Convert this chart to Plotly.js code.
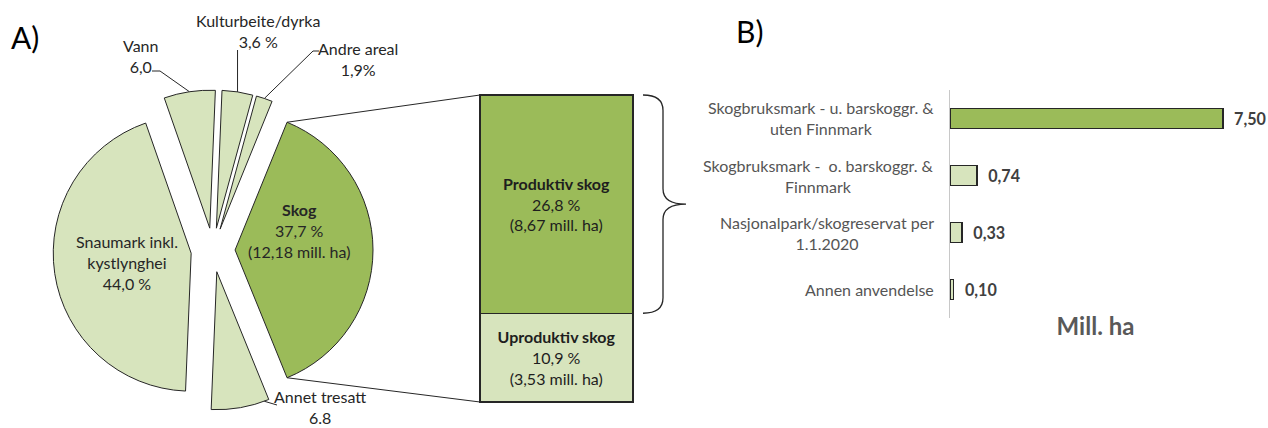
<!DOCTYPE html>
<html><head><meta charset="utf-8">
<script src="https://cdn.plot.ly/plotly-3.0.1.min.js"></script>
<style>html,body{margin:0;padding:0;background:#fff}</style>
</head><body><div id="chart" style="width:1268px;height:428px"></div>
<script>
// ---------- DATA ----------
const pieLabels = ['Skog', 'Annet tresatt', 'Snaumark inkl. kystlynghei', 'Vann', 'Kulturbeite/dyrka', 'Andre areal'];
const pieValues = [37.7, 6.8, 44.0, 6.0, 3.6, 1.9];
const pieNameText = ['<b>Skog</b>', 'Annet tresatt', 'Snaumark inkl.<br>kystlynghei', 'Vann', 'Kulturbeite/dyrka', 'Andre areal'];
const pieValueText = ['37,7 %', '6.8', '44,0 %', '6,0', '3,6 %', '1,9%'];
const skogMillHaText = '(12,18 mill. ha)';

const forestLabels = ['Produktiv skog', 'Uproduktiv skog'];
const forestValues = [26.8, 10.9];
const forestMillHa = [8.67, 3.53];

const useCategories = ['Skogbruksmark - u. barskoggr. &<br>uten Finnmark',
                       'Skogbruksmark -  o. barskoggr. &<br>Finnmark',
                       'Nasjonalpark/skogreservat per<br>1.1.2020',
                       'Annen anvendelse'];
const useValues = [7.50, 0.74, 0.33, 0.10];

// ---------- STYLE / LAYOUT HELPERS ----------
const W = 1268, H = 428;
const px = x => x / W, py = y => 1 - y / H;
const DARK = '#9BBB59', LIGHT = '#D7E4BD', EDGE = '#262626';
const FONT = 'Lato, "Open Sans", sans-serif';
const pieColors = [DARK, LIGHT, LIGHT, LIGHT, LIGHT, LIGHT];
const useColors = [DARK, LIGHT, LIGHT, LIGHT];
const pull = 0.16;
const pieBox = {x0: 53, x1: 373, y0: 90, y1: 410};
const barBox = {x0: 480, x1: 633, y0: 95, y1: 402};
const useBox = {x0: 950, x1: 1241, y0: 90, y1: 318};
const PADPX = 6; // padding around the forest bar so its outline is not clipped

// pie geometry (same rules Plotly uses) for connectors / leaders
const total = pieValues.reduce((a, b) => a + b, 0);
const rotation = 90 - pieValues[0] / total * 180; // Skog centred at 3 o'clock
const cx = (pieBox.x0 + pieBox.x1) / 2, cy = (pieBox.y0 + pieBox.y1) / 2;
const r = Math.min(pieBox.x1 - pieBox.x0, pieBox.y1 - pieBox.y0) / 2 / (1 + pull);
const slices = [];
let cum = 0;
pieValues.forEach(v => {
  const a0 = rotation + cum / total * 360, a1 = rotation + (cum + v) / total * 360;
  const mid = (a0 + a1) / 2 * Math.PI / 180;
  slices.push({a0, a1, mid: (a0 + a1) / 2, ox: cx + pull * r * Math.sin(mid), oy: cy - pull * r * Math.cos(mid)});
  cum += v;
});
function arcPt(i, angDeg) {
  const a = angDeg * Math.PI / 180, s = slices[i];
  return [s.ox + r * Math.sin(a), s.oy - r * Math.cos(a)];
}
const P = p => `${px(p[0])},${py(p[1])}`;

const forestTotal = forestValues.reduce((a, b) => a + b, 0);
const bw = barBox.x1 - barBox.x0, bh = barBox.y1 - barBox.y0;
const xPadU = PADPX / bw, yPadU = PADPX / bh * forestTotal;

// ---------- TRACES ----------
const pieTrace = {
  type: 'pie', labels: pieLabels, values: pieValues, sort: false, direction: 'clockwise',
  rotation: rotation, pull: pull, textinfo: 'none', hoverinfo: 'label+value',
  marker: {colors: pieColors, line: {color: EDGE, width: 1}},
  domain: {x: [px(pieBox.x0), px(pieBox.x1)], y: [py(pieBox.y1), py(pieBox.y0)]},
  showlegend: false
};

const forestTraces = [1, 0].map(i => ({
  type: 'bar', x: [0], y: [forestValues[i]], width: 1, xaxis: 'x', yaxis: 'y', cliponaxis: false,
  customdata: [[forestLabels[i], forestMillHa[i]]],
  marker: {color: i === 0 ? DARK : LIGHT, line: {color: EDGE, width: 1.2}},
  texttemplate: '<b>%{customdata[0]}</b><br>%{y:.1f} %<br>(%{customdata[1]:.2f} mill. ha)',
  textposition: 'inside', insidetextanchor: 'middle', textangle: 0, constraintext: 'none',
  textfont: {family: FONT, size: 16, color: '#1e1e1e'}, hoverinfo: 'skip'
}));

const useTrace = {
  type: 'bar', orientation: 'h', x: useValues, y: useCategories, width: 0.35,
  xaxis: 'x2', yaxis: 'y2',
  marker: {color: useColors, line: {color: EDGE, width: 1.5}},
  texttemplate: '\u00a0\u00a0<b>%{x:.2f}</b>', textposition: 'outside', cliponaxis: false,
  textfont: {family: FONT, size: 17, color: '#404040'}, hoverinfo: 'skip'
};

// ---------- ANNOTATIONS ----------
const ann = [];
const txt = (x, y, text, extra) => ann.push(Object.assign({
  x: px(x), y: py(y), xref: 'paper', yref: 'paper', text, showarrow: false,
  font: {family: FONT, size: 16, color: '#262626'}, align: 'center', xanchor: 'center', yanchor: 'middle'
}, extra || {}));

txt(9, 37, 'A)', {xanchor: 'left', font: {family: FONT, size: 30, color: '#000'}});
txt(734, 31, 'B)', {xanchor: 'left', font: {family: FONT, size: 30, color: '#000'}});
txt(299, 230, pieNameText[0] + '<br>' + pieValueText[0] + '<br>' + skogMillHaText);
txt(127, 262, pieNameText[2] + '<br>' + pieValueText[2]);
txt(140, 56, pieNameText[3] + '<br>' + pieValueText[3]);
txt(258, 31, pieNameText[4] + '<br>' + pieValueText[4]);
txt(358, 59, pieNameText[5] + '<br>' + pieValueText[5]);
txt(320, 407, pieNameText[1] + '<br>' + pieValueText[1]);

useCategories.forEach(c => ann.push({
  x: px(936), xref: 'paper', y: c, yref: 'y2', text: c, showarrow: false,
  xanchor: 'right', align: 'center', font: {family: FONT, size: 16, color: '#555555'}
}));

// ---------- SHAPES ----------
const line = {color: '#262626', width: 1};
const skogTop = arcPt(0, slices[0].a0), skogBot = arcPt(0, slices[0].a1);
const vannP = arcPt(3, slices[3].mid), kultP = arcPt(4, slices[4].mid), andreP = arcPt(5, slices[5].mid);
const annetP = arcPt(1, slices[1].a0 + 2);
const shapes = [
  {type: 'path', xref: 'paper', yref: 'paper', line, path: `M${P(skogTop)} L${px(barBox.x0)},${py(barBox.y0)}`},
  {type: 'path', xref: 'paper', yref: 'paper', line, path: `M${P(skogBot)} L${px(barBox.x0)},${py(barBox.y1)}`},
  {type: 'path', xref: 'paper', yref: 'paper', line, path: `M${P(vannP)} L${P([160, 71])} L${P([152, 71])}`},
  {type: 'path', xref: 'paper', yref: 'paper', line, path: `M${P(kultP)} L${P([kultP[0], 50])}`},
  {type: 'path', xref: 'paper', yref: 'paper', line, path: `M${P(andreP)} L${P([313, 51])} L${P([319, 51])}`},
  {type: 'path', xref: 'paper', yref: 'paper', line, path: `M${P(annetP)} L${P([277, 405])}`}
];
// curly brace alongside "Produktiv skog" (x in paper, y in forest-bar data units)
(function () {
  const yTop = forestTotal, yBot = forestValues[1], yMid = (yTop + yBot) / 2, d = 1.9;
  const x0 = px(643), x1 = px(663), x2 = px(686);
  shapes.push({type: 'path', xref: 'paper', yref: 'y', line: {color: '#262626', width: 1.3},
    path: `M${x0},${yTop} Q${x1},${yTop} ${x1},${yTop - d} L${x1},${yMid + d} Q${x1},${yMid} ${x2},${yMid} ` +
          `Q${x1},${yMid} ${x1},${yMid - d} L${x1},${yBot + d} Q${x1},${yBot} ${x0},${yBot}`});
})();

// ---------- LAYOUT ----------
const layout = {
  width: W, height: H, margin: {l: 0, r: 0, t: 0, b: 0},
  paper_bgcolor: '#fff', plot_bgcolor: 'rgba(0,0,0,0)', showlegend: false,
  separators: ', ', barmode: 'stack', font: {family: FONT},
  xaxis: {domain: [px(barBox.x0 - PADPX), px(barBox.x1 + PADPX)], range: [-0.5 - xPadU, 0.5 + xPadU], visible: false, fixedrange: true},
  yaxis: {domain: [py(barBox.y1 + PADPX), py(barBox.y0 - PADPX)], range: [-yPadU, forestTotal + yPadU], visible: false, fixedrange: true},
  xaxis2: {domain: [px(useBox.x0), px(useBox.x1)], range: [0, 8], anchor: 'y2', showgrid: false, zeroline: false,
           showticklabels: false, showline: false, ticks: '',
           title: {text: '<b>Mill. ha</b>', font: {family: FONT, size: 24, color: '#595959'}, standoff: 0}},
  yaxis2: {domain: [py(useBox.y1), py(useBox.y0)], type: 'category', autorange: 'reversed', anchor: 'x2',
           showline: true, linecolor: '#C8C8C8', linewidth: 1, showticklabels: false, ticks: '', showgrid: false},
  annotations: ann, shapes: shapes
};

Plotly.newPlot('chart', [pieTrace].concat(forestTraces, [useTrace]), layout, {displayModeBar: false, staticPlot: true});
</script></body></html>
